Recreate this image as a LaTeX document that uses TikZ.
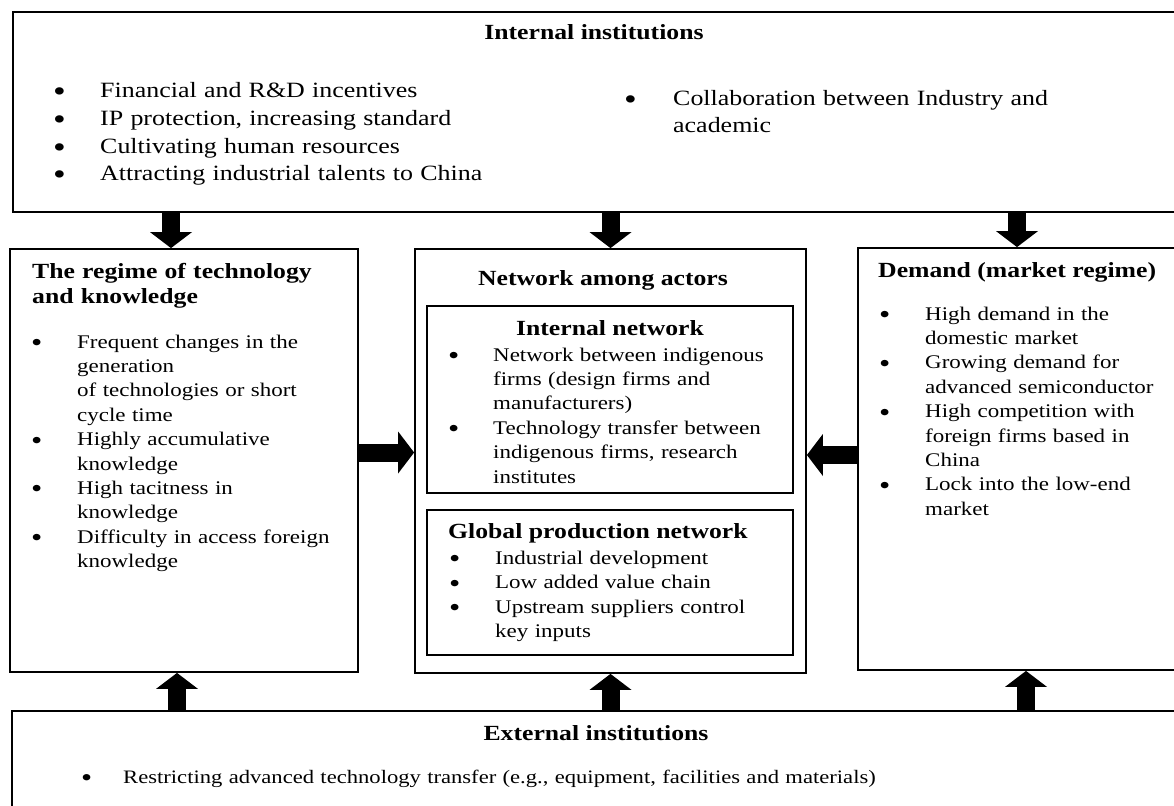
\documentclass[tikz,border=0pt]{standalone}
\usepackage{fontspec}
\setmainfont[FakeStretch=1.19]{Liberation Serif}
\usetikzlibrary{positioning,arrows.meta}

% bullet line with hanging indent
\newcommand{\blt}[2][46pt]{\noindent\hangindent=#1\hangafter=1\makebox[#1][l]{\raisebox{-0.18em}{\scalebox{1.4}{\textbullet}}}#2\par}

\begin{document}
\begin{tikzpicture}[x=1pt, y=-1pt,
  panel/.style={draw, line width=1.8pt, inner sep=0pt},
  titletext/.style={font=\bfseries\fontsize{21.6}{25}\selectfont, inner sep=0pt},
  bodytext/.style={font=\fontsize{19.3}{24.4}\selectfont, inner sep=0pt, anchor=base west, align=left, text width=#1},
  bigarrow/.style={line width=18pt, -{Triangle[width=42pt, length=16pt, line width=0pt]}}]

\useasboundingbox (0,0) rectangle (1174,805);
\clip (0,0) rectangle (1174,805);

% boxes
\node [panel, minimum width=1167pt, minimum height=200pt] (inst) at (596.5,112) {};
\node [panel, minimum width=348pt, minimum height=423pt] (regime) at (184,460.5) {};
\node [panel, minimum width=391pt, minimum height=424pt] (network) at (610.5,461) {};
\node [panel, minimum width=366pt, minimum height=187pt] (intnet) at (610,399.5) {};
\node [panel, minimum width=366pt, minimum height=145pt] (globnet) at (610,582.5) {};
\node [panel, minimum width=318pt, minimum height=422pt] (demand) at (1017,459) {};
\node [panel, minimum width=1168pt, minimum height=104pt] (extinst) at (596,763) {};

% texts
\node [titletext, anchor=base] (insttitle) at (594,40) {Internal institutions};
\node [bodytext=440pt, font=\fontsize{21.8}{27.6}\selectfont] (instlist) at (53,98) {%
  \blt[47pt]{Financial and R\&D incentives}
  \blt[47pt]{IP protection, increasing standard}
  \blt[47pt]{Cultivating human resources}
  \blt[47pt]{Attracting industrial talents to China}};
\node [bodytext=520pt, font=\fontsize{21.8}{27}\selectfont] (instlist2) at (624,106) {%
  \blt[49pt]{Collaboration between Industry and\newline academic}};

\node [titletext, anchor=base west, align=left, text width=320pt] (regimetitle) at (32,278) {The regime of technology\newline and knowledge};
\node [bodytext=320pt] (regimelist) at (31,348) {%
  \blt{Frequent changes in the\newline generation\newline of technologies or short\newline cycle time}
  \blt{Highly accumulative\newline knowledge}
  \blt{High tacitness in\newline knowledge}
  \blt{Difficulty in access foreign\newline knowledge}};

\node [titletext, anchor=base] (networktitle) at (603,285) {Network among actors};
\node [titletext, anchor=base] (intnettitle) at (610,335) {Internal network};
\node [bodytext=340pt] (intnetlist) at (448,361) {%
  \blt[45pt]{Network between indigenous\newline firms (design firms and\newline manufacturers)}
  \blt[45pt]{Technology transfer between\newline indigenous firms, research\newline institutes}};
\node [titletext, anchor=base west] (globnettitle) at (448,538) {Global production network};
\node [bodytext=340pt, font=\fontsize{19.3}{24.6}\selectfont] (globnetlist) at (449,564) {%
  \blt{Industrial development}
  \blt{Low added value chain}
  \blt{Upstream suppliers control\newline key inputs}};

\node [titletext, anchor=base west] (demandtitle) at (878,277) {Demand (market regime)};
\node [bodytext=300pt] (demandlist) at (879,320) {%
  \blt{High demand in the\newline domestic market}
  \blt{Growing demand for\newline advanced semiconductor}
  \blt{High competition with\newline foreign firms based in\newline China}
  \blt{Lock into the low-end\newline market}};

\node [titletext, anchor=base] (extinsttitle) at (596,740) {External institutions};
\node [bodytext=1040pt, font=\fontsize{19}{22}\selectfont] (extinstlist) at (81,783) {%
  \blt[42pt]{Restricting advanced technology transfer (e.g., equipment, facilities and materials)}};

% arrow points
\coordinate (rtop) at ([xshift=-13pt]regime.north);
\coordinate (rbot) at ([xshift=-7pt]regime.south);
\coordinate (dbot) at ([xshift=9pt]demand.south);
\coordinate (lmid) at ([yshift=8pt]regime.east);
\coordinate (rmid) at ([yshift=4pt]demand.west);

% arrows
\draw [bigarrow] (inst.south -| rtop) -- (rtop);
\draw [bigarrow] (inst.south -| network.north) -- (network.north);
\draw [bigarrow] (inst.south -| demand.north) -- (demand.north);

\draw [bigarrow] (lmid) -- (lmid -| network.west);
\draw [bigarrow] (rmid) -- (rmid -| network.east);

\draw [bigarrow] (extinst.north -| rbot) -- (rbot);
\draw [bigarrow] (extinst.north -| network.south) -- (network.south);
\draw [bigarrow] (extinst.north -| dbot) -- (dbot);

\end{tikzpicture}
\end{document}
